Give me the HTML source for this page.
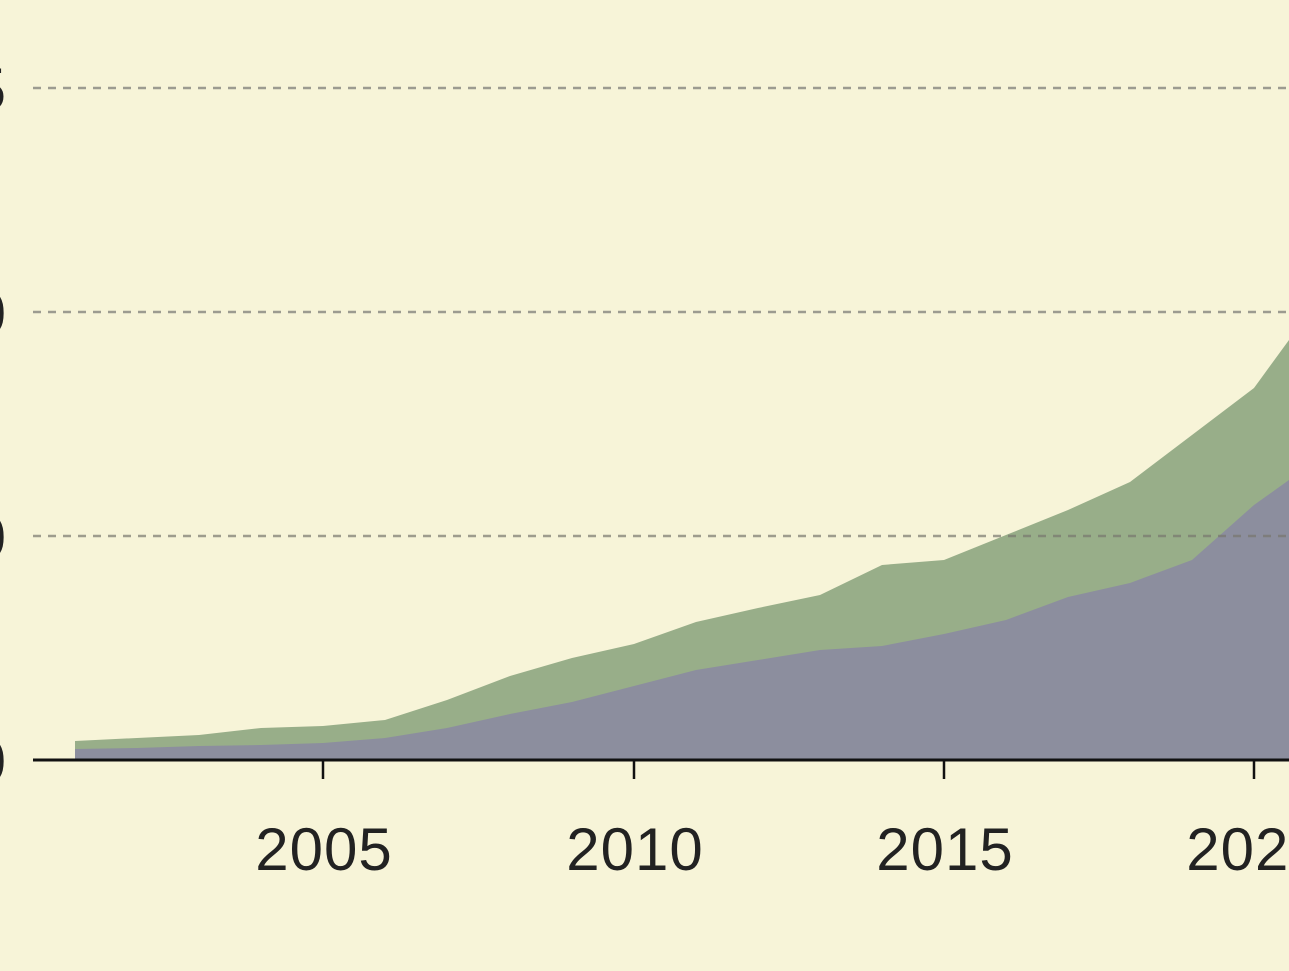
<!DOCTYPE html>
<html><head><style>html,body{margin:0;padding:0;background:#f7f4d8;overflow:hidden}</style></head>
<body>
<svg width="1289" height="966" viewBox="0 0 1289 966" xmlns="http://www.w3.org/2000/svg">
<rect width="1289" height="966" fill="#f7f4d8"/>
<g stroke="#9c9b90" stroke-width="2.5" stroke-dasharray="8 7">
<line x1="33" y1="88" x2="1289" y2="88"/>
<line x1="33" y1="312" x2="1289" y2="312"/>
</g>
<polygon fill="#98ae89" points="75,741 137,738 199,735 261,728 323,726 385,720 447,700 510,676 572,658 634,644 696,622 758,608 820,595 882,565 944,560 1006,535 1068,510 1130,482 1192,435 1254,388 1289,340 1289,760 75,760"/>
<polygon fill="#8c8e9e" points="75,749 137,748 199,746 261,745 323,743 385,738 447,728 510,714 572,702 634,686 696,670 758,660 820,650 882,646 944,634 1006,620 1068,597 1130,583 1192,560 1254,505 1289,480 1289,760 75,760"/>
<line x1="33" y1="536" x2="1289" y2="536" stroke="#77766e" stroke-opacity="0.7" stroke-width="2.5" stroke-dasharray="8 7"/>
<line x1="33" y1="760" x2="1289" y2="760" stroke="#111" stroke-width="3"/>
<g stroke="#111" stroke-width="2.5">
<line x1="323" y1="760" x2="323" y2="779"/>
<line x1="634" y1="760" x2="634" y2="779"/>
<line x1="944" y1="760" x2="944" y2="779"/>
<line x1="1254" y1="760" x2="1254" y2="779"/>
</g>
<g font-family="Liberation Sans, sans-serif" font-size="60" fill="#222" text-anchor="middle" letter-spacing="1">
<text x="324" y="870">2005</text>
<text x="635" y="870">2010</text>
<text x="945" y="870">2015</text>
<text x="1255" y="870">2020</text>
</g>
<g font-family="Liberation Sans, sans-serif" font-size="60" fill="#222" text-anchor="end">
<text x="6" y="110">5</text>
<text x="6" y="334">0</text>
<text x="6" y="558">0</text>
<text x="6" y="782">0</text>
</g>
</svg>
</body></html>
